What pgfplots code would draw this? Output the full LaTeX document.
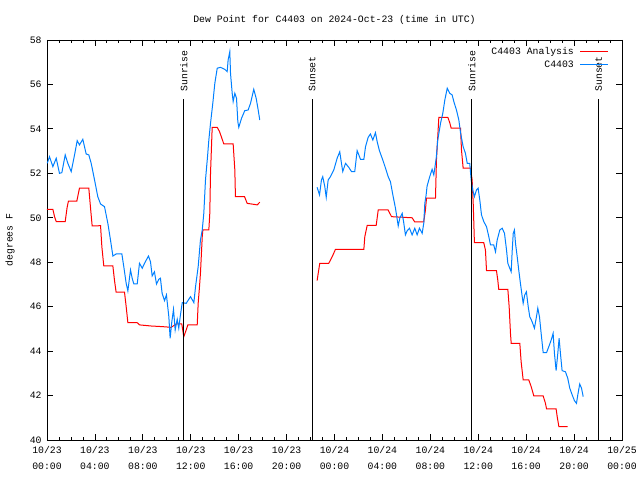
\documentclass[border=0pt]{standalone}
\usepackage{pgfplots}
\pgfplotsset{compat=1.18}
\usepackage{fontspec}
\setmainfont{Liberation Mono}
\definecolor{gblue}{RGB}{0,128,255}
\begin{document}
\fontsize{9.8bp}{11bp}\selectfont
\begin{tikzpicture}
\path[use as bounding box] (-47bp,-40bp) rectangle (593bp,440bp);
\begin{axis}[
  at={(0,0)}, anchor=south west,
  scale only axis, width=575bp, height=400bp,
  xmin=0, xmax=48, ymin=40, ymax=58,
  xtick={0,4,...,48}, minor x tick num=3,
  xticklabels={{10/23\\00:00},{10/23\\04:00},{10/23\\08:00},{10/23\\12:00},{10/23\\16:00},{10/23\\20:00},{10/24\\00:00},{10/24\\04:00},{10/24\\08:00},{10/24\\12:00},{10/24\\16:00},{10/24\\20:00},{10/25\\00:00}},
  ytick={40,42,...,58},
  tick align=inside,
  major tick length=6bp, minor tick length=3bp,
  every tick/.style={black, line width=0.8bp},
  axis line style={black, line width=0.8bp},
  x tick label style={align=center, font=\fontsize{9.8bp}{15.5bp}\selectfont, yshift=-3bp},
  y tick label style={font=\fontsize{9.8bp}{11bp}\selectfont, xshift=-2bp},
  /pgf/number format/assume math mode=true,
  ylabel={degrees F},
  ylabel style={at={(axis description cs:-0.0643,0.5)}, anchor=center, font=\fontsize{9.8bp}{11bp}\selectfont},
  title={Dew Point for C4403 on 2024-Oct-23 (time in UTC)},
  title style={at={(axis description cs:0.5,1)}, anchor=base, yshift=12bp, inner sep=0pt, font=\fontsize{9.8bp}{11bp}\selectfont},
  legend plot pos=right,
  legend cell align=right,
  legend image code/.code={\draw[#1] (0bp,0bp) -- (28bp,0bp);},
  legend style={at={(axis description cs:1,1)}, anchor=north east, xshift=-10bp, yshift=-3bp, draw=none, fill=none, font=\fontsize{9.8bp}{11bp}\selectfont, row sep=1bp, column sep=4bp},
]
\addplot[red, line width=1bp] coordinates {
(0.00,50.38) (0.49,50.38) (0.63,50.05) (0.77,49.83) (1.52,49.83) (1.68,50.47) (1.79,50.75) (2.49,50.75) (2.71,51.33) (3.49,51.33) (3.63,50.47) (3.77,49.63) (4.11,49.63) (4.47,49.65) (4.58,48.70) (4.74,47.83) (5.50,47.83) (5.63,47.20) (5.77,46.65) (6.47,46.65) (6.61,46.00) (6.75,45.28) (7.53,45.28) (7.72,45.18) (8.69,45.13) (9.67,45.10) (10.37,45.07) (10.78,45.22) (11.25,45.22) (11.42,44.65) (11.62,44.95) (11.76,45.18) (12.54,45.18) (12.62,46.15) (12.73,46.90) (12.81,47.50) (12.96,49.15) (13.01,49.45) (13.51,49.45) (13.59,50.20) (13.65,52.00) (13.79,54.07) (14.21,54.07) (14.40,53.88) (14.57,53.62) (14.76,53.32) (15.54,53.32) (15.68,52.15) (15.73,50.95) (16.49,50.95) (16.71,50.65) (17.55,50.58) (17.76,50.70)
};
\addlegendentry{C4403 Analysis}
\addplot[gblue, line width=1bp] coordinates {
(0.02,52.45) (0.21,52.75) (0.49,52.30) (0.77,52.68) (1.04,52.00) (1.24,52.03) (1.52,52.83) (1.74,52.45) (2.02,52.08) (2.30,52.83) (2.52,53.47) (2.71,53.28) (2.99,53.53) (3.27,52.87) (3.49,52.83) (3.69,52.45) (3.97,51.70) (4.24,50.95) (4.47,50.62) (4.80,50.50) (5.08,49.75) (5.30,49.00) (5.50,48.28) (5.77,48.37) (6.25,48.37) (6.41,47.80) (6.61,47.05) (6.75,46.71) (6.97,47.65) (7.11,47.28) (7.25,47.02) (7.53,47.02) (7.72,47.95) (7.95,47.73) (8.14,47.95) (8.47,48.28) (8.64,48.02) (8.78,47.38) (8.97,47.57) (9.14,47.02) (9.33,47.23) (9.47,47.28) (9.61,46.60) (9.81,46.27) (9.97,46.53) (10.17,45.55) (10.28,44.58) (10.42,45.32) (10.56,45.88) (10.70,44.95) (10.87,45.43) (11.00,45.03) (11.14,45.63) (11.29,46.18) (11.62,46.15) (11.98,46.45) (12.26,46.18) (12.40,46.90) (12.62,47.80) (12.81,49.00) (12.96,49.45) (13.09,50.20) (13.23,51.70) (13.40,52.75) (13.51,53.50) (13.65,54.25) (13.84,55.15) (14.01,56.05) (14.21,56.73) (14.48,56.77) (14.84,56.68) (15.04,56.58) (15.12,57.10) (15.26,57.48) (15.32,56.50) (15.46,55.60) (15.54,55.23) (15.68,55.60) (15.82,55.38) (15.93,54.33) (16.01,54.07) (16.24,54.48) (16.51,54.82) (16.79,54.85) (16.99,55.15) (17.26,55.78) (17.46,55.38) (17.63,54.85) (17.76,54.40)
};
\addlegendentry{C4403}
\addplot[red, line width=1bp, forget plot] coordinates {
(22.55,47.17) (22.64,47.50) (22.77,47.95) (23.52,47.95) (23.81,48.25) (24.08,48.58) (26.45,48.58) (26.53,49.15) (26.73,49.66) (27.48,49.66) (27.65,50.35) (28.48,50.35) (28.76,50.05) (30.48,50.00) (30.70,49.81) (31.45,49.81) (31.59,50.35) (31.68,50.88) (32.43,50.88) (32.51,52.60) (32.71,54.52) (33.46,54.52) (33.62,54.28) (33.74,54.03) (34.52,54.03) (34.60,53.05) (34.74,52.23) (35.35,52.23) (35.49,51.70) (35.58,50.65) (35.68,48.88) (36.46,48.88) (36.60,48.55) (36.69,47.62) (37.52,47.62) (37.63,47.20) (37.71,46.78) (38.47,46.78) (38.58,46.00) (38.69,44.80) (38.75,44.35) (39.47,44.35) (39.58,43.52) (39.75,42.70) (40.22,42.70) (40.42,42.40) (40.64,41.98) (41.42,41.98) (41.61,41.65) (41.70,41.40) (42.50,41.40) (42.59,41.05) (42.73,40.60) (43.47,40.60)
};
\addplot[gblue, line width=1bp, forget plot] coordinates {
(22.55,51.37) (22.75,51.03) (22.91,51.70) (23.02,51.85) (23.19,51.40) (23.31,50.92) (23.47,51.70) (23.66,51.85) (23.94,52.15) (24.22,52.68) (24.44,52.97) (24.58,52.45) (24.69,52.08) (24.92,52.45) (25.19,52.27) (25.42,52.08) (25.69,52.08) (25.89,53.02) (26.03,52.83) (26.17,52.63) (26.45,52.63) (26.59,53.20) (26.81,53.62) (27.00,53.77) (27.20,53.50) (27.42,53.83) (27.56,53.43) (27.75,53.02) (28.03,52.60) (28.26,52.23) (28.48,51.85) (28.67,51.62) (28.87,51.03) (29.09,50.43) (29.32,49.63) (29.45,49.98) (29.65,50.20) (29.78,49.78) (29.92,49.23) (30.07,49.42) (30.26,49.53) (30.48,49.23) (30.70,49.53) (30.90,49.23) (31.09,49.53) (31.32,49.30) (31.45,49.75) (31.54,50.65) (31.65,51.03) (31.73,51.43) (31.95,51.85) (32.15,52.18) (32.29,51.93) (32.49,52.68) (32.62,53.50) (32.85,54.25) (33.04,54.70) (33.21,55.30) (33.41,55.83) (33.62,55.60) (33.82,55.53) (33.96,55.23) (34.18,54.85) (34.38,54.40) (34.52,53.83) (34.74,53.20) (34.93,52.90) (35.08,52.45) (35.29,52.45) (35.41,51.70) (35.54,51.25) (35.68,50.95) (35.85,51.25) (35.99,51.33) (36.13,50.80) (36.27,50.13) (36.46,49.83) (36.69,49.60) (36.88,49.15) (37.02,48.78) (37.29,48.78) (37.44,48.47) (37.58,49.00) (37.80,49.45) (38.00,49.53) (38.19,49.30) (38.36,48.55) (38.47,47.95) (38.63,47.73) (38.75,47.57) (38.83,48.47) (38.92,49.30) (39.02,49.45) (39.11,48.85) (39.25,48.25) (39.38,47.65) (39.52,47.05) (39.67,46.45) (39.75,46.15) (39.88,46.53) (40.02,46.67) (40.17,46.00) (40.30,45.55) (40.50,45.32) (40.69,45.03) (40.86,45.55) (40.97,45.93) (41.11,45.55) (41.25,44.80) (41.42,43.93) (41.70,43.93) (41.89,44.20) (42.09,44.50) (42.25,44.80) (42.36,43.90) (42.50,43.12) (42.64,43.90) (42.75,44.58) (42.86,43.90) (43.00,43.12) (43.28,43.07) (43.47,42.78) (43.64,42.33) (43.84,42.03) (44.03,41.77) (44.20,41.65) (44.31,42.03) (44.47,42.52) (44.62,42.33) (44.76,41.95)
};
\addplot[black, line width=1bp, forget plot] coordinates {(11.42,40) (11.42,55.35)};
\addplot[black, line width=1bp, forget plot] coordinates {(22.13,40) (22.13,55.35)};
\addplot[black, line width=1bp, forget plot] coordinates {(35.46,40) (35.46,55.35)};
\addplot[black, line width=1bp, forget plot] coordinates {(46.06,40) (46.06,55.35)};
\node[rotate=90, anchor=west, inner sep=0pt] at (axis cs:11.42,55.67) {Sunrise};
\node[rotate=90, anchor=west, inner sep=0pt] at (axis cs:22.13,55.67) {Sunset};
\node[rotate=90, anchor=west, inner sep=0pt] at (axis cs:35.46,55.67) {Sunrise};
\node[rotate=90, anchor=west, inner sep=0pt] at (axis cs:46.06,55.67) {Sunset};
\end{axis}
\end{tikzpicture}
\end{document}
